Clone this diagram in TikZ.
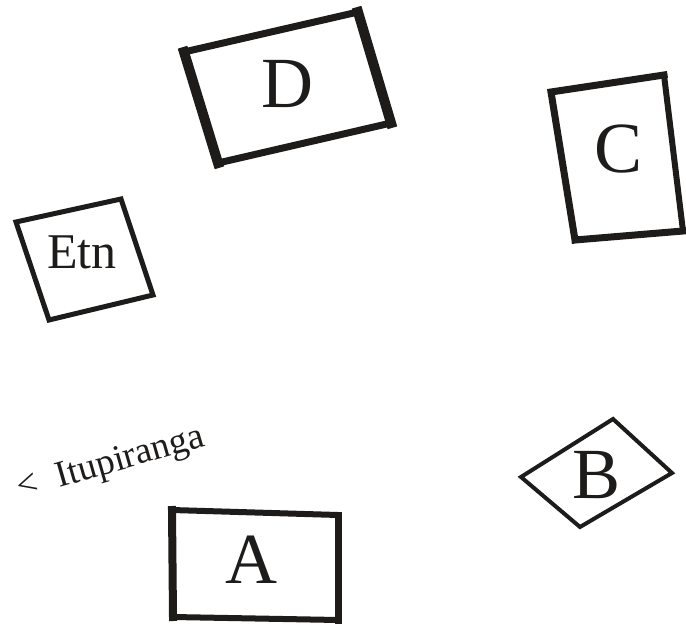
\documentclass[tikz,border=0pt]{standalone}
\usepackage{fontspec}
\setmainfont{Liberation Serif}
\usepackage{tikz}
\definecolor{MapInk}{HTML}{1E1C1A}

\begin{document}
\begin{tikzpicture}[
  x=1pt,y=-1pt,
  rim/.style={draw=MapInk,line cap=rect,line join=miter},
  tag/.style={text=MapInk,inner sep=0pt,font=\fontsize{72}{80}\selectfont},
  smalltag/.style={text=MapInk,inner sep=0pt,font=\fontsize{50}{56}\selectfont},
  note/.style={text=MapInk,inner sep=0pt,font=\fontsize{37}{42}\selectfont},
]
  \useasboundingbox (0,0) rectangle (686,626);

  % box D
  \coordinate (D1) at (184,52);  \coordinate (D2) at (358,12);
  \coordinate (D3) at (391,123); \coordinate (D4) at (218,163);
  \draw[rim,line width=7pt] (D1) -- (D2) (D4) -- (D3);
  \draw[rim,line width=10pt] (D1) -- (D4) (D2) -- (D3);
  \node[tag] (d) at (287,84) {D};

  % box C
  \coordinate (C1) at (551,92);  \coordinate (C2) at (664,75);
  \coordinate (C3) at (683,231); \coordinate (C4) at (575,240);
  \draw[rim,line width=7pt] (C1) -- (C2) (C4) -- (C3) (C1) -- (C4);
  \draw[rim,line width=6pt] (C2) -- (C3);
  \node[tag] (c) at (619,149) {C};

  % box Etn
  \coordinate (E1) at (16,222);  \coordinate (E2) at (121,199);
  \coordinate (E3) at (153,295); \coordinate (E4) at (49,320);
  \draw[rim,line width=5pt] (E1) -- (E2) -- (E3) -- (E4) -- cycle;
  \node[smalltag] (etn) at (82,252) {Etn};

  % box A
  \coordinate (A1) at (172,510); \coordinate (A2) at (338,515);
  \coordinate (A3) at (338,620); \coordinate (A4) at (173,617);
  \draw[rim,line width=6pt] (A1) -- (A2) (A4) -- (A3);
  \draw[rim,line width=8pt] (A1) -- (A4);
  \draw[rim,line width=7pt] (A2) -- (A3);
  \node[tag] (a) at (251,560) {A};

  % diamond B
  \coordinate (B1) at (521,477); \coordinate (B2) at (613,419);
  \coordinate (B3) at (672,473); \coordinate (B4) at (580,527);
  \draw[rim,line width=4pt] (B1) -- (B2) -- (B3) -- (B4) -- cycle;
  \node[tag] (b) at (597,475) {B};

  \node[note,rotate=16,anchor=base west] (itu) at (20,499) {<\hspace{0.3em} Itupiranga};
\end{tikzpicture}
\end{document}
